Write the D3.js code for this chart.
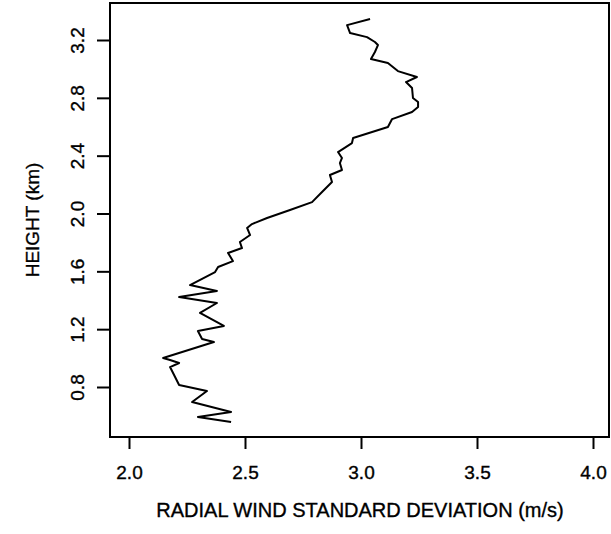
<!DOCTYPE html>
<html>
<head>
<meta charset="utf-8">
<script src="https://cdn.jsdelivr.net/npm/d3@7"></script>
<style>
  html, body { margin: 0; padding: 0; background: #fff; }
  svg { display: block; }
  text { font-family: "Liberation Sans", Arial, sans-serif; fill: #000; stroke: #000; stroke-width: 0.35px; }
</style>
</head>
<body>
<svg id="chart" width="611" height="534"></svg>
<script>
// Radial wind standard deviation (m/s) by height (km), from bottom to top
const heights = [0.558, 0.593, 0.627, 0.696, 0.772, 0.814, 0.938, 0.966, 0.987, 1.001,
  1.111, 1.132, 1.187, 1.222, 1.312, 1.381, 1.422, 1.464, 1.505, 1.595,
  1.630, 1.671, 1.727, 1.761, 1.803, 1.851, 1.900, 1.927, 1.969, 2.024,
  2.079, 2.149, 2.218, 2.266, 2.301, 2.349, 2.384, 2.425, 2.487, 2.522,
  2.598, 2.653, 2.702, 2.736, 2.771, 2.799, 2.868, 2.909, 2.944, 2.985,
  3.041, 3.068, 3.117, 3.165, 3.186, 3.220, 3.248, 3.303, 3.345];
const stdDev = [2.440, 2.297, 2.440, 2.272, 2.336, 2.216, 2.177, 2.216, 2.177, 2.147,
  2.366, 2.315, 2.297, 2.409, 2.306, 2.379, 2.216, 2.379, 2.263, 2.371,
  2.384, 2.448, 2.427, 2.487, 2.478, 2.522, 2.509, 2.530, 2.595, 2.694,
  2.789, 2.832, 2.875, 2.866, 2.918, 2.909, 2.918, 2.901, 2.961, 2.966,
  3.116, 3.134, 3.220, 3.246, 3.246, 3.224, 3.220, 3.194, 3.241, 3.159,
  3.116, 3.043, 3.060, 3.073, 3.060, 3.026, 2.953, 2.940, 3.039];
const xTicks = [2.0, 2.5, 3.0, 3.5, 4.0];
const yTicks = [0.8, 1.2, 1.6, 2.0, 2.4, 2.8, 3.2];
const xTitle = "RADIAL WIND STANDARD DEVIATION (m/s)";
const yTitle = "HEIGHT (km)";

const box = { left: 110, top: 3, right: 609, bottom: 437 };
const svg = d3.select("#chart");

const x = d3.scaleLinear().domain([2.0, 4.0]).range([129, 593]);
const y = d3.scaleLinear().domain([0.8, 3.2]).range([387, 40]);

// plot box
svg.append("rect")
  .attr("x", box.left).attr("y", box.top)
  .attr("width", box.right - box.left).attr("height", box.bottom - box.top)
  .attr("fill", "none").attr("stroke", "#000").attr("stroke-width", 2);

// x axis
const xAxis = svg.append("g")
  .attr("transform", `translate(0,${box.bottom})`)
  .call(d3.axisBottom(x).tickValues(xTicks).tickFormat(d3.format(".1f")).tickSize(12));
xAxis.select(".domain").remove();
xAxis.selectAll("line").attr("stroke", "#000").attr("stroke-width", 2);
xAxis.selectAll("text")
  .attr("font-size", 19).attr("font-family", "Liberation Sans, Arial, sans-serif").attr("fill", "#000")
  .attr("y", 42).attr("dy", null);

// y axis
const yAxis = svg.append("g")
  .attr("transform", `translate(${box.left},0)`)
  .call(d3.axisLeft(y).tickValues(yTicks).tickFormat(d3.format(".1f")).tickSize(13).tickPadding(0));
yAxis.select(".domain").remove();
yAxis.selectAll("line").attr("stroke", "#000").attr("stroke-width", 2);
yAxis.selectAll("text")
  .attr("font-size", 19).attr("font-family", "Liberation Sans, Arial, sans-serif").attr("fill", "#000")
  .attr("x", null).attr("dy", null)
  .attr("text-anchor", "middle")
  .attr("transform", "translate(-33,0) rotate(-90)")
  .attr("y", 7);

// titles
svg.append("text")
  .attr("x", 360).attr("y", 517)
  .attr("text-anchor", "middle").attr("font-size", 20)
  .text(xTitle);
svg.append("text")
  .attr("transform", `translate(39,${(box.top + box.bottom) / 2}) rotate(-90)`)
  .attr("text-anchor", "middle").attr("font-size", 19)
  .text(yTitle);

// profile line
const pts = heights.map((h, i) => [stdDev[i], h]);
svg.append("path")
  .datum(pts)
  .attr("fill", "none").attr("stroke", "#000").attr("stroke-width", 2)
  .attr("stroke-linejoin", "round")
  .attr("d", d3.line().x(d => x(d[0])).y(d => y(d[1])));
</script>
</body>
</html>
